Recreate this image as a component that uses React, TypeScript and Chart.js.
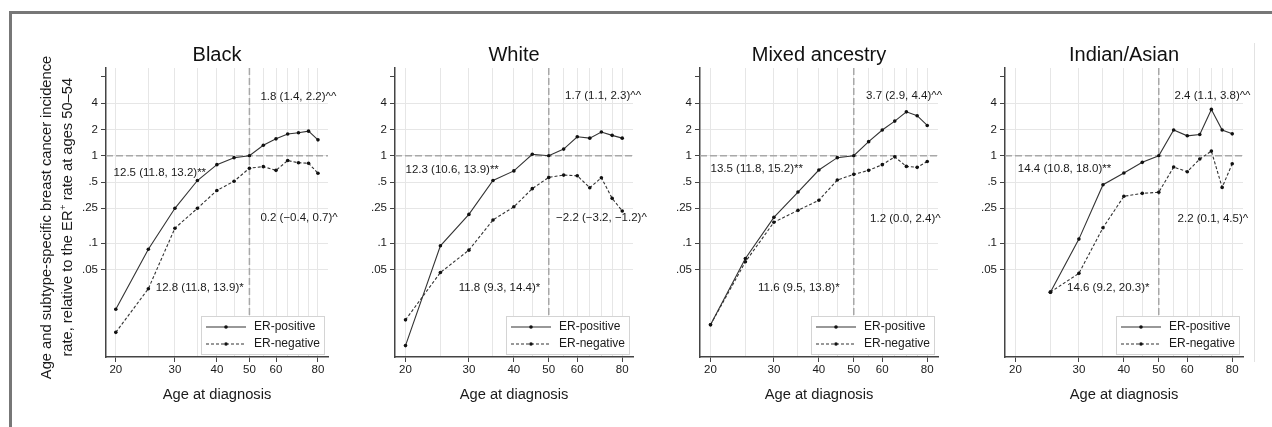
import React, { useEffect, useRef } from 'react';
import { Chart, registerables } from 'chart.js';

Chart.register(...registerables);

const FONT = "'Liberation Sans', Arial, Helvetica, sans-serif";

// ---------- data ----------
const ages = [20, 25, 30, 35, 40, 45, 50, 55, 60, 65, 70, 75, 80];
const panelTitles = ['Black', 'White', 'Mixed ancestry', 'Indian/Asian'];
const seriesNames = ['ER-positive', 'ER-negative'];

const blackPos = [0.0175, 0.085, 0.25, 0.52, 0.79, 0.95, 1.0, 1.32, 1.56, 1.77, 1.83, 1.91, 1.52];
const blackNeg = [0.0095, 0.030, 0.148, 0.25, 0.40, 0.51, 0.72, 0.75, 0.68, 0.88, 0.83, 0.82, 0.63];
const whitePos = [0.0067, 0.093, 0.213, 0.52, 0.67, 1.04, 1.0, 1.19, 1.65, 1.59, 1.87, 1.71, 1.59];
const whiteNeg = [0.0132, 0.046, 0.083, 0.184, 0.26, 0.42, 0.565, 0.60, 0.59, 0.43, 0.56, 0.325, 0.233];
const mixedPos = [0.0116, 0.0665, 0.197, 0.384, 0.686, 0.95, 1.0, 1.45, 1.97, 2.49, 3.18, 2.87, 2.22];
const mixedNeg = [0.0116, 0.061, 0.173, 0.237, 0.309, 0.527, 0.612, 0.68, 0.79, 0.97, 0.755, 0.736, 0.86];
const indianPos = [null, 0.0274, 0.111, 0.466, 0.634, 0.84, 1.0, 1.97, 1.69, 1.75, 3.39, 1.97, 1.78];
const indianNeg = [null, 0.0274, 0.045, 0.150, 0.343, 0.371, 0.381, 0.742, 0.656, 0.916, 1.13, 0.434, 0.81];

const yTickValues = [0.05, 0.1, 0.25, 0.5, 1, 2, 4, 8];
const yTickLabels = ['.05', '.1', '.25', '.5', '1', '2', '4', ''];
const xTickValues = [20, 25, 30, 35, 40, 45, 50, 55, 60, 65, 70, 75, 80];
const xTickLabels = ['20', '', '30', '', '40', '', '50', '', '60', '', '', '', '80'];

// annotation text anchored (left edge, vertical middle) at data coords [age, ratio]
const blackNotes = [
  { age: 53.9, ratio: 4.75, text: '1.8 (1.4, 2.2)^^' },
  { age: 19.7, ratio: 0.634, text: '12.5 (11.8, 13.2)**' },
  { age: 53.9, ratio: 0.194, text: '0.2 (\u22120.4, 0.7)^' },
  { age: 26.3, ratio: 0.0306, text: '12.8 (11.8, 13.9)*' },
];
const whiteNotes = [
  { age: 55.5, ratio: 4.9, text: '1.7 (1.1, 2.3)^^' },
  { age: 20.0, ratio: 0.686, text: '12.3 (10.6, 13.9)**' },
  { age: 52.4, ratio: 0.192, text: '\u22122.2 (\u22123.2, \u22121.2)^' },
  { age: 28.1, ratio: 0.0306, text: '11.8 (9.3, 14.4)*' },
];
const mixedNotes = [
  { age: 54.1, ratio: 4.9, text: '3.7 (2.9, 4.4)^^' },
  { age: 20.0, ratio: 0.699, text: '13.5 (11.8, 15.2)**' },
  { age: 55.5, ratio: 0.189, text: '1.2 (0.0, 2.4)^' },
  { age: 27.1, ratio: 0.0306, text: '11.6 (9.5, 13.8)*' },
];
const indianNotes = [
  { age: 55.3, ratio: 4.9, text: '2.4 (1.1, 3.8)^^' },
  { age: 20.3, ratio: 0.699, text: '14.4 (10.8, 18.0)**' },
  { age: 56.4, ratio: 0.189, text: '2.2 (0.1, 4.5)^' },
  { age: 27.8, ratio: 0.0306, text: '14.6 (9.2, 20.3)*' },
];

const yTitleLine1 = 'Age and subtype-specific breast cancer incidence';
const yTitleLine2a = 'rate, relative to the ER';
const yTitleSup = '+';
const yTitleLine2b = ' rate at ages 50\u201354';
const xTitle = 'Age at diagnosis';

// ---------- layout (positions only) ----------
const panels = [
  { title: panelTitles[0], pos: blackPos, neg: blackNeg, notes: blackNotes, left: 20, yw: 86, yTitle: true },
  { title: panelTitles[1], pos: whitePos, neg: whiteNeg, notes: whiteNotes, left: 355, yw: 40, yTitle: false },
  { title: panelTitles[2], pos: mixedPos, neg: mixedNeg, notes: mixedNotes, left: 660, yw: 40, yTitle: false },
  { title: panelTitles[3], pos: indianPos, neg: indianNeg, notes: indianNotes, left: 965, yw: 40, yTitle: false },
];
const PLOT_W = [222, 238, 238, 238];
const CANVAS_TOP = 30;
const CANVAS_H = 377;
const RIGHT_PAD = 16;
const AXIS_TITLE_SIZE = 14.7;

const toPoints = (vals: (number | null)[]) =>
  ages.map((a, i) => ({ x: a, y: vals[i] })).filter((p) => p.y !== null);

const refLinesPlugin = {
  id: 'refLines',
  beforeDatasetsDraw(chart: any) {
    const { ctx, chartArea, scales } = chart;
    ctx.save();
    ctx.strokeStyle = '#a8a8a8';
    ctx.lineWidth = 1.5;
    ctx.setLineDash([7, 3]);
    const y1 = scales.y.getPixelForValue(1);
    ctx.beginPath();
    ctx.moveTo(chartArea.left, y1);
    ctx.lineTo(chartArea.right, y1);
    ctx.stroke();
    const x50 = scales.x.getPixelForValue(50);
    ctx.beginPath();
    ctx.moveTo(x50, chartArea.top);
    ctx.lineTo(x50, chartArea.bottom);
    ctx.stroke();
    ctx.restore();
  },
};

function makeOverlayPlugin(notes: any[], withYTitle: boolean) {
  return {
    id: 'overlay',
    afterDraw(chart: any) {
      const { ctx, chartArea, scales } = chart;
      ctx.save();
      // annotations
      ctx.font = `11.5px ${FONT}`;
      ctx.fillStyle = '#1a1a1a';
      ctx.textAlign = 'left';
      ctx.textBaseline = 'middle';
      notes.forEach((n) => {
        ctx.fillText(n.text, scales.x.getPixelForValue(n.age), scales.y.getPixelForValue(n.ratio));
      });
      // legend
      const w = 123, h = 38;
      const x0 = Math.round(chartArea.right - 4 - w);
      const y0 = Math.round(chartArea.bottom - 3 - h);
      ctx.fillStyle = '#fff';
      ctx.fillRect(x0, y0, w, h);
      ctx.strokeStyle = '#d4d4d4';
      ctx.lineWidth = 1;
      ctx.strokeRect(x0 + 0.5, y0 + 0.5, w, h);
      const rows = [y0 + 11, y0 + 28];
      rows.forEach((ry, i) => {
        ctx.strokeStyle = '#333';
        ctx.lineWidth = 1.1;
        ctx.setLineDash(i === 0 ? [] : [3, 2]);
        ctx.beginPath();
        ctx.moveTo(x0 + 5, ry);
        ctx.lineTo(x0 + 45, ry);
        ctx.stroke();
        ctx.setLineDash([]);
        ctx.fillStyle = '#111';
        ctx.beginPath();
        ctx.arc(x0 + 25, ry, 1.8, 0, Math.PI * 2);
        ctx.fill();
        ctx.font = `12px ${FONT}`;
        ctx.fillStyle = '#1a1a1a';
        ctx.textAlign = 'left';
        ctx.textBaseline = 'middle';
        ctx.fillText(seriesNames[i], x0 + 53, ry);
      });
      // y title
      if (withYTitle) {
        const cy = (chartArea.top + chartArea.bottom) / 2 + 5;
        const left = scales.y.left;
        ctx.fillStyle = '#1a1a1a';
        ctx.textBaseline = 'middle';
        ctx.save();
        ctx.translate(left + 27, cy);
        ctx.rotate(-Math.PI / 2);
        ctx.font = `${AXIS_TITLE_SIZE}px ${FONT}`;
        ctx.textAlign = 'center';
        ctx.fillText(yTitleLine1, 0, 0);
        ctx.restore();
        ctx.save();
        ctx.translate(left + 48, cy);
        ctx.rotate(-Math.PI / 2);
        ctx.textAlign = 'left';
        ctx.font = `${AXIS_TITLE_SIZE}px ${FONT}`;
        const wa = ctx.measureText(yTitleLine2a).width;
        const wb = ctx.measureText(yTitleLine2b).width;
        ctx.font = `9.5px ${FONT}`;
        const ws = ctx.measureText(yTitleSup).width;
        const start = -(wa + ws + wb) / 2;
        ctx.font = `${AXIS_TITLE_SIZE}px ${FONT}`;
        ctx.fillText(yTitleLine2a, start, 0);
        ctx.font = `9.5px ${FONT}`;
        ctx.fillText(yTitleSup, start + wa + 0.5, -5);
        ctx.font = `${AXIS_TITLE_SIZE}px ${FONT}`;
        ctx.fillText(yTitleLine2b, start + wa + ws + 0.5, 0);
        ctx.restore();
      }
      ctx.restore();
    },
  };
}

function Panel({ idx }: { idx: number }) {
  const ref = useRef<HTMLCanvasElement>(null);
  const p = panels[idx];
  const width = p.yw + PLOT_W[idx] + RIGHT_PAD;
  useEffect(() => {
    if (!ref.current) return;
    const lineBase = {
      borderColor: '#333',
      borderWidth: 1.1,
      pointRadius: 1.8,
      pointBackgroundColor: '#111',
      pointBorderWidth: 0,
      pointHoverRadius: 1.8,
      fill: false,
      tension: 0,
    };
    const chart = new Chart(ref.current, {
      type: 'line',
      data: {
        datasets: [
          { ...lineBase, label: seriesNames[0], data: toPoints(p.pos) },
          { ...lineBase, label: seriesNames[1], data: toPoints(p.neg), borderDash: [3, 2] },
        ],
      },
      options: {
        animation: false,
        responsive: false,
        devicePixelRatio: 1,
        layout: { padding: { left: 0, right: RIGHT_PAD, top: 0, bottom: 0 } },
        plugins: {
          legend: { display: false },
          tooltip: { enabled: false },
          title: {
            display: true,
            fullSize: false,
            text: p.title,
            color: '#111',
            font: { size: 20, family: FONT, weight: 'normal' },
            padding: { top: 13, bottom: 1 },
          },
        },
        scales: {
          x: {
            type: 'logarithmic',
            min: 18.7,
            max: 85.7,
            afterBuildTicks: (s: any) => {
              s.ticks = xTickValues.map((v) => ({ value: v }));
            },
            afterFit: (s: any) => {
              s.height = 50;
            },
            ticks: {
              autoSkip: false,
              maxRotation: 0,
              minRotation: 0,
              padding: 1,
              color: '#1a1a1a',
              font: { size: 11.5, family: FONT },
              callback: (v: any) => {
                const i = xTickValues.indexOf(Number(v));
                return i >= 0 ? xTickLabels[i] : '';
              },
            },
            grid: {
              color: '#e6e6e6',
              lineWidth: 1,
              tickLength: 5,
              tickWidth: 1,
              tickColor: (c: any) => {
                const i = xTickValues.indexOf(c.tick ? c.tick.value : -1);
                return i >= 0 && xTickLabels[i] !== '' ? '#444' : 'rgba(0,0,0,0)';
              },
            },
            border: { display: true, color: '#444', width: 1.5 },
            title: {
              display: true,
              text: xTitle,
              color: '#1a1a1a',
              font: { size: AXIS_TITLE_SIZE, family: FONT },
              padding: { top: 0, bottom: 3.2 },
            },
          },
          y: {
            type: 'logarithmic',
            min: 0.00496,
            max: 10.1,
            afterBuildTicks: (s: any) => {
              s.ticks = yTickValues.map((v) => ({ value: v }));
            },
            afterFit: (s: any) => {
              s.width = p.yw;
            },
            ticks: {
              autoSkip: false,
              padding: 3,
              color: '#1a1a1a',
              font: { size: 11.5, family: FONT },
              callback: (v: any) => {
                const i = yTickValues.indexOf(Number(v));
                return i >= 0 ? yTickLabels[i] : '';
              },
            },
            grid: {
              color: (c: any) => (c.tick && c.tick.value > 5 ? 'rgba(0,0,0,0)' : '#e6e6e6'),
              lineWidth: 1,
              tickLength: 5,
              tickWidth: 1,
              tickColor: '#444',
            },
            border: { display: true, color: '#444', width: 1.5 },
          },
        },
      },
      plugins: [refLinesPlugin, makeOverlayPlugin(p.notes, p.yTitle)],
    } as any);
    return () => chart.destroy();
  }, [idx]);
  return (
    <canvas
      ref={ref}
      width={width}
      height={CANVAS_H}
      style={{ position: 'absolute', left: p.left, top: CANVAS_TOP, width, height: CANVAS_H }}
    />
  );
}

export default function App() {
  return (
    <div
      style={{
        position: 'absolute',
        left: 0,
        top: 0,
        width: 1272,
        height: 427,
        background: '#fff',
        overflow: 'hidden',
      }}
    >
      <div style={{ position: 'absolute', left: 9, top: 11, width: 1263, height: 3, background: '#777' }} />
      <div style={{ position: 'absolute', left: 9, top: 11, width: 3, height: 416, background: '#777' }} />
      <div style={{ position: 'absolute', left: 1254, top: 43, width: 1, height: 319, background: '#e2e2e2' }} />
      {panels.map((_, i) => (
        <Panel key={i} idx={i} />
      ))}
    </div>
  );
}
